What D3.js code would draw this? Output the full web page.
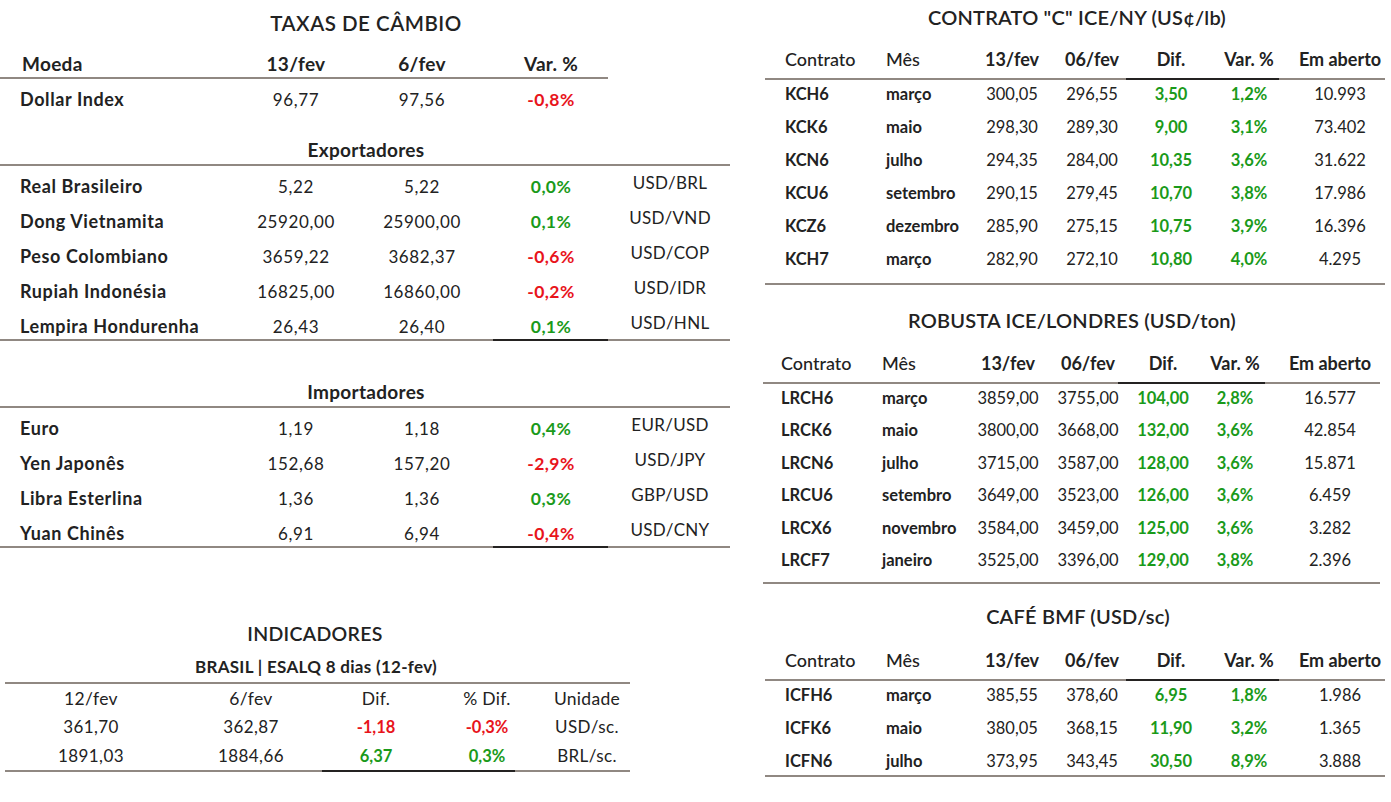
<!DOCTYPE html><html><head><meta charset="utf-8"><script src="https://cdn.jsdelivr.net/npm/d3@7"></script>
<style>body{margin:0;background:#fff}text{font-family:Lato,"Open Sans",sans-serif;fill:#222}</style></head><body><svg id="s" width="1391" height="802"></svg>
<script>
const fxHeader=["Moeda","13/fev","6/fev","Var. %"];
const dollarRow=["Dollar Index","96,77","97,56","-0,8%"];
const exportadores=[["Real Brasileiro","5,22","5,22","0,0%","USD/BRL"],["Dong Vietnamita","25920,00","25900,00","0,1%","USD/VND"],["Peso Colombiano","3659,22","3682,37","-0,6%","USD/COP"],["Rupiah Indonésia","16825,00","16860,00","-0,2%","USD/IDR"],["Lempira Hondurenha","26,43","26,40","0,1%","USD/HNL"]];
const importadores=[["Euro","1,19","1,18","0,4%","EUR/USD"],["Yen Japonês","152,68","157,20","-2,9%","USD/JPY"],["Libra Esterlina","1,36","1,36","0,3%","GBP/USD"],["Yuan Chinês","6,91","6,94","-0,4%","USD/CNY"]];
const indHeader=["12/fev","6/fev","Dif.","% Dif.","Unidade"];
const indRows=[["361,70","362,87","-1,18","-0,3%","USD/sc."],["1891,03","1884,66","6,37","0,3%","BRL/sc."]];
const futHeader=["Contrato","Mês","13/fev","06/fev","Dif.","Var. %","Em aberto"];
const kcRows=[["KCH6","março","300,05","296,55","3,50","1,2%","10.993"],["KCK6","maio","298,30","289,30","9,00","3,1%","73.402"],["KCN6","julho","294,35","284,00","10,35","3,6%","31.622"],["KCU6","setembro","290,15","279,45","10,70","3,8%","17.986"],["KCZ6","dezembro","285,90","275,15","10,75","3,9%","16.396"],["KCH7","março","282,90","272,10","10,80","4,0%","4.295"]];
const lrRows=[["LRCH6","março","3859,00","3755,00","104,00","2,8%","16.577"],["LRCK6","maio","3800,00","3668,00","132,00","3,6%","42.854"],["LRCN6","julho","3715,00","3587,00","128,00","3,6%","15.871"],["LRCU6","setembro","3649,00","3523,00","126,00","3,6%","6.459"],["LRCX6","novembro","3584,00","3459,00","125,00","3,6%","3.282"],["LRCF7","janeiro","3525,00","3396,00","129,00","3,8%","2.396"]];
const bmfRows=[["ICFH6","março","385,55","378,60","6,95","1,8%","1.986"],["ICFK6","maio","380,05","368,15","11,90","3,2%","1.365"],["ICFN6","julho","373,95","343,45","30,50","8,9%","3.888"]];

const svg=d3.select("#s");
const GREEN="#1a9a1a",RED="#e8141b",LINE="#6b6058";
function col(v){return v.startsWith("-")?RED:GREEN;}
function t(x,y,s,o={}){svg.append("text").attr("x",x).attr("y",y).attr("text-anchor",o.a||"middle").attr("font-size",o.fs||16.5).attr("font-weight",o.w||400).attr("letter-spacing",o.ls||0).style("fill",o.c||"#222").text(s);}
function ln(x1,x2,y,c=LINE,w=1.3){svg.append("line").attr("x1",x1).attr("x2",x2).attr("y1",y).attr("y2",y).attr("stroke",c).attr("stroke-width",w);}

// FX table
t(366,31,"TAXAS DE CÂMBIO",{fs:20.5,w:600,ls:0.5});
const fx=[22,296,422,551];
fxHeader.forEach((h,i)=>t(fx[i],71,h,{a:i?"middle":"start",fs:19,w:700,ls:0.3}));
ln(0,608,78);
function fxRow(r,y){t(20,y,r[0],{a:"start",w:700,fs:18,ls:0.6});t(fx[1],y,r[1],{fs:17,ls:0.6});t(fx[2],y,r[2],{fs:17,ls:0.6});t(fx[3],y,r[3],{c:col(r[3]),w:700,fs:17.5,ls:0.4});if(r[4])t(670,y-4,r[4],{fs:17,ls:0.3});}
fxRow(dollarRow,106);
const ey=d3.scaleLinear().domain([0,1]).range([193,228]);
t(366,157,"Exportadores",{fs:19,w:700,ls:0.3});ln(0,730,165);
exportadores.forEach((r,i)=>fxRow(r,ey(i)));
ln(0,730,340);ln(493,608,340,"#000");
t(366,399,"Importadores",{fs:19,w:700,ls:0.3});ln(0,730,407);
const iy=d3.scaleLinear().domain([0,1]).range([435,470]);
importadores.forEach((r,i)=>fxRow(r,iy(i)));
ln(0,730,547);ln(493,608,547,"#000");

// Indicadores
t(315,641,"INDICADORES",{fs:19.5,w:600,ls:0.3});
t(316,673,"BRASIL | ESALQ 8 dias (12-fev)",{fs:17,w:700,ls:0.3});
ln(5,630,683);
const ix=[91,251,376,487,587];
indHeader.forEach((h,i)=>t(ix[i],705,h,{fs:17.5,ls:0.3}));
const ry=d3.scaleLinear().domain([0,1]).range([733,762]);
indRows.forEach((r,j)=>r.forEach((v,i)=>t(ix[i],ry(j),v,(i==2||i==3)?{c:col(v),w:700,fs:16.5}:{fs:17,ls:0.4})));
ln(5,630,771);ln(322,515,771,"#000");

// Futures
function fut(title,tx,ty,hy,rows,xs,l1,l2,r0,step,bot){
  t(tx,ty,title,{fs:20,w:600,ls:0.2});
  futHeader.forEach((h,i)=>t(xs[i],hy,h,{a:i<2?"start":"middle",fs:18,w:i<2?500:700}));
  ln(l1,l2,hy+13);ln(xs[4]-45,xs[5]+30,hy+13,"#000");
  const y=d3.scaleLinear().domain([0,1]).range([r0,r0+step]);
  rows.forEach((r,j)=>r.forEach((v,i)=>{const yy=y(j);
    if(i<2)t(xs[i],yy,v,{a:"start",fs:16.5,w:700});
    else if(i==4||i==5)t(xs[i],yy,v,{c:GREEN,w:700,fs:16.5});
    else t(xs[i],yy,v,{fs:16.5});}));
  ln(l1,l2,bot);
}
fut('CONTRATO "C" ICE/NY (US¢/lb)',1077,25,66,kcRows,[785,886,1012,1092,1171,1249,1340],765,1385,100,33,284);
fut("ROBUSTA ICE/LONDRES (USD/ton)",1072,328,370,lrRows,[781,882,1008,1088,1163,1235,1330],763,1380,404,32.4,583);
fut("CAFÉ BMF (USD/sc)",1078,624,667,bmfRows,[785,886,1012,1092,1171,1249,1340],765,1385,701,33,776);
</script></body></html>
